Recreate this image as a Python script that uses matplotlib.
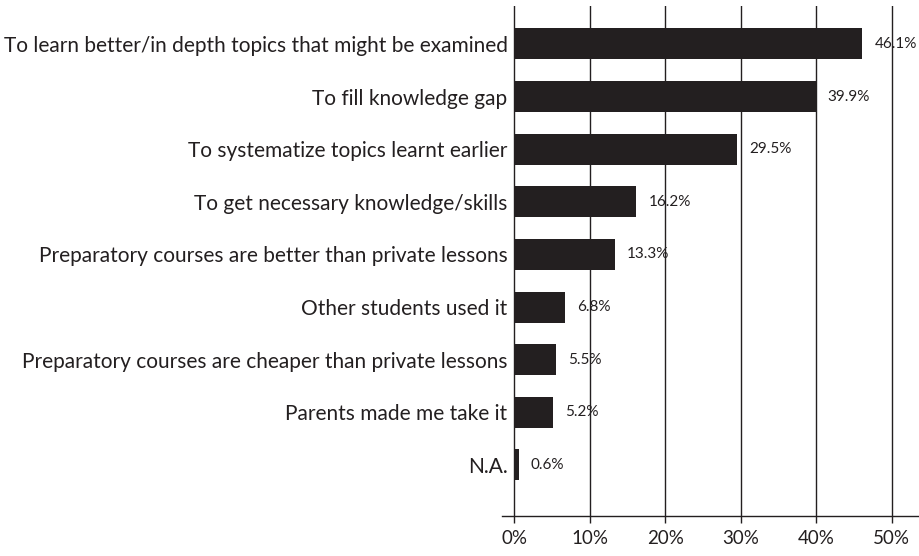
import matplotlib.pyplot as plt

# Reasons for taking preparatory courses (% of respondents)
reasons = [
    "To learn better/in depth topics that might be examined",
    "To fill knowledge gap",
    "To systematize topics learnt earlier",
    "To get necessary knowledge/skills",
    "Preparatory courses are better than private lessons",
    "Other students used it",
    "Preparatory courses are cheaper than private lessons",
    "Parents made me take it",
    "N.A.",
]
shares = [46.1, 39.9, 29.5, 16.2, 13.3, 6.8, 5.5, 5.2, 0.6]
ticks = [0, 10, 20, 30, 40, 50]

ink = "#231f20"
plt.rcParams["font.family"] = ["Lato", "DejaVu Sans"]

fig = plt.figure(figsize=(9.19, 5.56), dpi=100)
left = 502 / 919
ax = fig.add_axes([left, 1 - 516 / 556, 1 - left, (516 - 6) / 556])

ypos = list(range(len(reasons)))
ax.barh(ypos, shares, height=0.59, color=ink, zorder=3)

for y, v in zip(ypos, shares):
    ax.text(v + 1.6, y, f"{v:.1f}%", va="center", ha="left",
            fontsize=11, color=ink, zorder=4)

ax.set_xlim(-1.6, 53.6)
ax.set_ylim(len(reasons) - 1 + 0.97, -0.72)
ax.set_xticks(ticks)
ax.set_xticklabels([f"{t}%" for t in ticks], fontsize=13.5, color=ink)
ax.set_yticks(ypos)
ax.set_yticklabels(reasons, fontsize=15, color=ink)
ax.tick_params(axis="y", length=0, pad=-4)
ax.tick_params(axis="x", length=5, width=1, color=ink, pad=5)

ax.grid(axis="x", color=ink, linewidth=1, zorder=1)
for side in ["top", "right", "left"]:
    ax.spines[side].set_visible(False)
ax.spines["bottom"].set_color(ink)
ax.spines["bottom"].set_linewidth(1)

fig.savefig("out.png", dpi=100)
